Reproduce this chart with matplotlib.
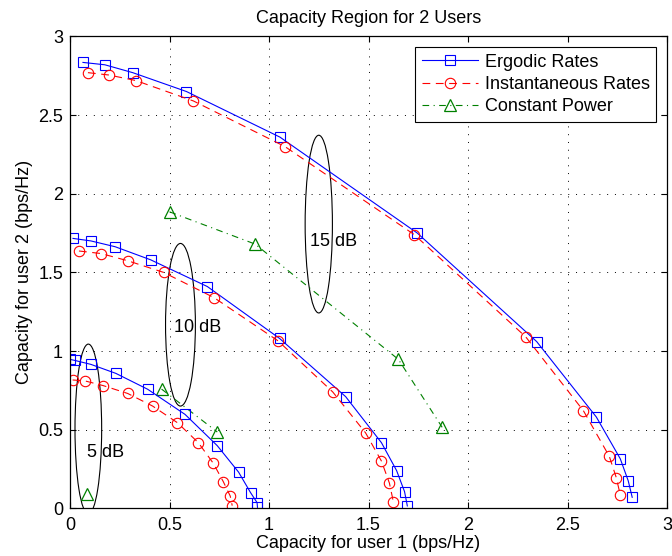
import matplotlib
matplotlib.use("Agg")
import matplotlib.pyplot as plt
from matplotlib.patches import Ellipse

plt.rcParams["font.family"] = ["Liberation Sans", "DejaVu Sans"]

# 15 dB
erg15_x = [0.065, 0.175, 0.315, 0.585, 1.055, 1.745, 2.345, 2.645, 2.765, 2.805, 2.825]
erg15_y = [2.835, 2.82, 2.77, 2.65, 2.36, 1.75, 1.06, 0.58, 0.315, 0.175, 0.07]
ins15_x = [0.09, 0.195, 0.33, 0.62, 1.08, 1.73, 2.29, 2.58, 2.71, 2.745, 2.765]
ins15_y = [2.77, 2.755, 2.72, 2.59, 2.30, 1.74, 1.09, 0.62, 0.33, 0.195, 0.085]
cp15_x = [0.50, 0.93, 1.65, 1.87]
cp15_y = [1.885, 1.68, 0.947, 0.515]

# 10 dB
erg10_x = [0.015, 0.105, 0.227, 0.405, 0.69, 1.053, 1.385, 1.565, 1.641, 1.681, 1.695]
erg10_y = [1.716, 1.70, 1.663, 1.58, 1.41, 1.08, 0.71, 0.417, 0.24, 0.106, 0.015]
ins10_x = [0.045, 0.155, 0.29, 0.47, 0.723, 1.045, 1.32, 1.485, 1.565, 1.605, 1.625]
ins10_y = [1.636, 1.62, 1.574, 1.50, 1.34, 1.065, 0.74, 0.48, 0.30, 0.16, 0.04]
cp10_x = [0.46, 0.74]
cp10_y = [0.758, 0.485]

# 5 dB
erg5_x = [0.0, 0.025, 0.105, 0.23, 0.39, 0.578, 0.74, 0.847, 0.907, 0.94, 0.942]
erg5_y = [0.947, 0.94, 0.915, 0.858, 0.757, 0.597, 0.398, 0.23, 0.10, 0.036, 0.006]
ins5_x = [0.013, 0.075, 0.167, 0.29, 0.415, 0.54, 0.645, 0.72, 0.77, 0.805, 0.815]
ins5_y = [0.816, 0.81, 0.78, 0.73, 0.65, 0.544, 0.417, 0.286, 0.17, 0.078, 0.017]
cp5_x = [0.085]
cp5_y = [0.09]

# SNR annotations: label, text position, ellipse centre / size
snr_labels = ["5 dB", "10 dB", "15 dB"]
label_xy = [(0.085, 0.354), (0.52, 1.15), (1.207, 1.695)]
ell_center = [(0.092, 0.504), (0.555, 1.167), (1.25, 1.807)]
ell_w = [0.134, 0.15, 0.137]
ell_h = [1.08, 1.034, 1.13]

ticks = [0, 0.5, 1, 1.5, 2, 2.5, 3]
tick_labels = ["0", "0.5", "1", "1.5", "2", "2.5", "3"]

FS = 13

fig = plt.figure(figsize=(6.72, 5.56), dpi=100)
ax = fig.add_axes([0.1042, 0.0858, 0.8884, 0.8486])

erg = dict(color="#0000ff", ls="-", lw=0.8, marker="s", ms=7, mfc="none", mew=0.8)
ins = dict(color="#ff0000", ls=(0, (7, 5)), lw=0.8, marker="o", ms=7.5, mfc="none", mew=0.8)
cp = dict(color="#008000", ls=(0, (6, 4, 1, 4)), lw=0.8, marker="^", ms=8.5, mfc="none", mew=0.9)

ax.plot(erg15_x, erg15_y, label="Ergodic Rates", **erg)
ax.plot(ins15_x, ins15_y, label="Instantaneous Rates", **ins)
ax.plot(cp15_x, cp15_y, label="Constant Power", **cp)
ax.plot(erg10_x, erg10_y, **erg)
ax.plot(ins10_x, ins10_y, **ins)
ax.plot(cp10_x, cp10_y, **cp)
ax.plot(erg5_x, erg5_y, **erg)
ax.plot(ins5_x, ins5_y, **ins)
ax.plot(cp5_x, cp5_y, **cp)

for lab, (tx, ty), c, w, h in zip(snr_labels, label_xy, ell_center, ell_w, ell_h):
    ax.add_patch(Ellipse(c, w, h, fill=False, edgecolor="black", lw=0.8))
    ax.text(tx, ty, lab, fontsize=FS, ha="left", va="center")

ax.set_xlim(0, 3)
ax.set_ylim(0, 3)
ax.set_xticks(ticks)
ax.set_xticklabels(tick_labels)
ax.set_yticks(ticks)
ax.set_yticklabels(tick_labels)
ax.tick_params(direction="in", top=True, right=True, labelsize=FS, length=4, width=0.8)
ax.tick_params(axis="x", pad=6)
ax.tick_params(axis="y", pad=5)
ax.grid(True, color="black", ls=(0, (1, 7)), lw=0.7)
for s in ax.spines.values():
    s.set_linewidth(0.9)

ax.set_title("Capacity Region for 2 Users", fontsize=FS, pad=10)
ax.set_xlabel("Capacity for user 1 (bps/Hz)", fontsize=FS, labelpad=1)
ax.set_ylabel("Capacity for user 2 (bps/Hz)", fontsize=FS, labelpad=4)

leg = ax.legend(loc="upper right", fontsize=FS, handlelength=3.1, fancybox=False,
                framealpha=1, edgecolor="black", borderpad=0.35, labelspacing=0.3,
                borderaxespad=0.6, handletextpad=0.4)
leg.get_frame().set_linewidth(0.8)

fig.savefig("out.png", dpi=100)
